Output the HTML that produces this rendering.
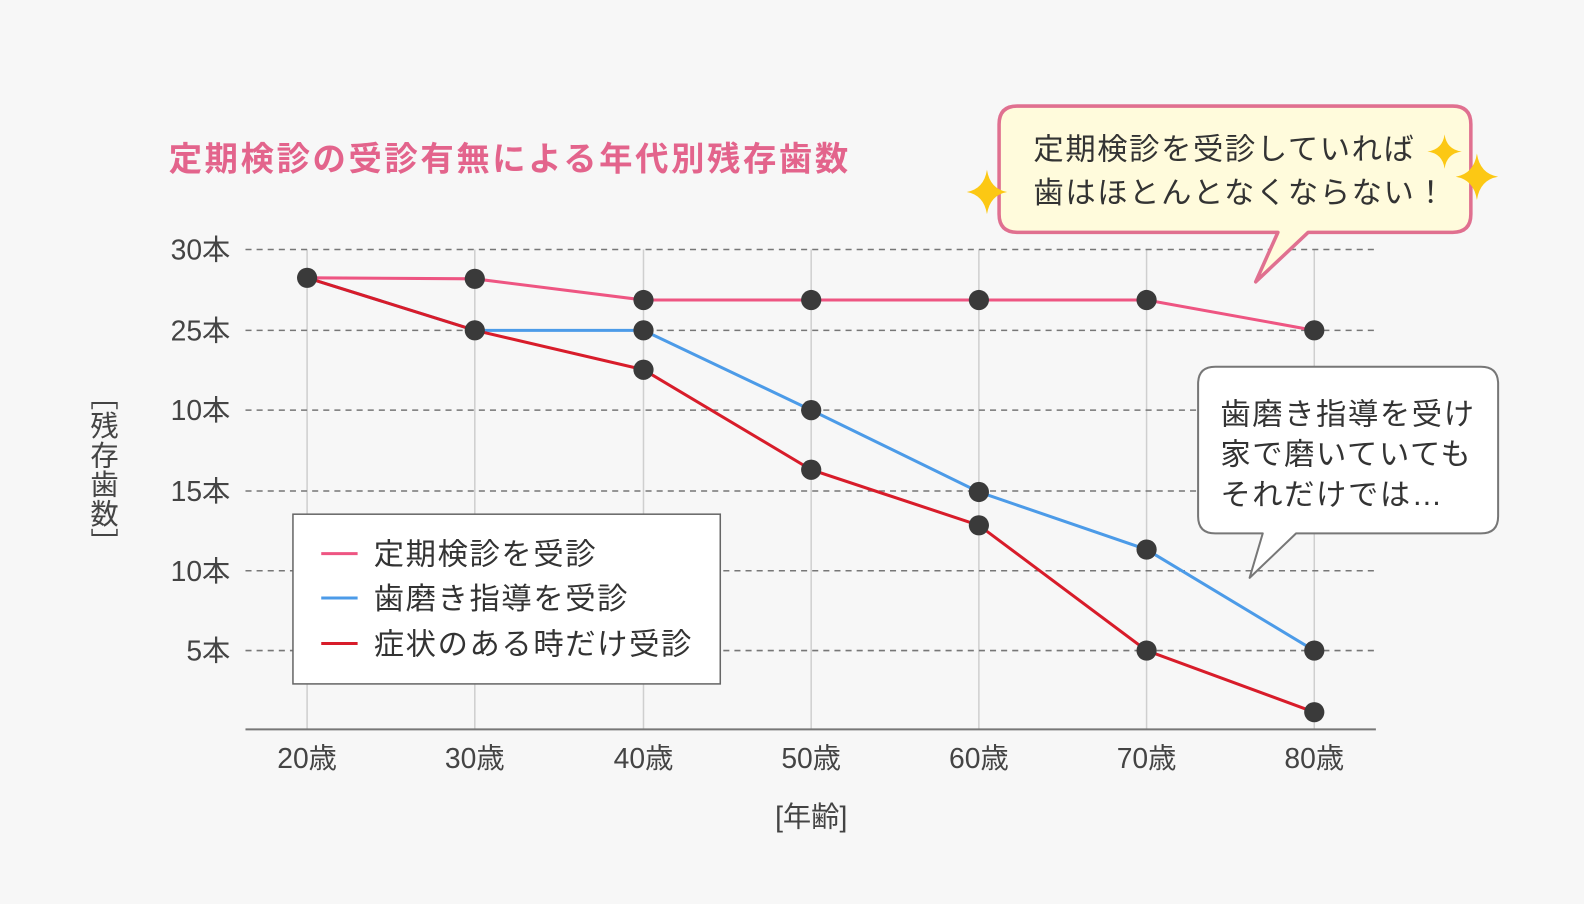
<!DOCTYPE html>
<html><head><meta charset="utf-8"><style>
html,body{margin:0;padding:0;background:#f7f7f7;}
svg{display:block;font-family:"Liberation Sans","Noto Sans CJK JP",sans-serif;}
</style></head><body>
<svg width="1584" height="904" viewBox="0 0 1584 904" xmlns="http://www.w3.org/2000/svg">
<rect width="1584" height="904" fill="#f7f7f7"/>
<g transform="scale(1.0102)">
<text x="167" y="169" font-size="33" font-weight="bold" fill="#e3648c" letter-spacing="2.6">定期検診の受診有無による年代別残存歯数</text>
<g stroke="#cfcfcf" stroke-width="1.5">
<line x1="304" y1="247" x2="304" y2="722"/><line x1="470" y1="247" x2="470" y2="722"/><line x1="637" y1="247" x2="637" y2="722"/><line x1="803" y1="247" x2="803" y2="722"/><line x1="969" y1="247" x2="969" y2="722"/><line x1="1135" y1="247" x2="1135" y2="722"/><line x1="1301" y1="247" x2="1301" y2="722"/>
</g>
<g stroke="#777" stroke-width="1.5" stroke-dasharray="6,5">
<line x1="243" y1="247" x2="1362" y2="247"/><line x1="243" y1="327" x2="1362" y2="327"/><line x1="243" y1="406" x2="1362" y2="406"/><line x1="243" y1="486" x2="1362" y2="486"/><line x1="243" y1="565" x2="1362" y2="565"/><line x1="243" y1="644" x2="1362" y2="644"/>
</g>
<line x1="243" y1="722" x2="1362" y2="722" stroke="#777" stroke-width="2"/>
<g font-size="28" fill="#444" text-anchor="end">
<text x="228" y="257">30本</text><text x="228" y="337">25本</text><text x="228" y="416">10本</text><text x="228" y="496">15本</text><text x="228" y="575">10本</text><text x="228" y="654">5本</text>
</g>
<g font-size="28" fill="#444" text-anchor="middle">
<text x="304" y="760">20歳</text><text x="470" y="760">30歳</text><text x="637" y="760">40歳</text><text x="803" y="760">50歳</text><text x="969" y="760">60歳</text><text x="1135" y="760">70歳</text><text x="1301" y="760">80歳</text>
<text x="803" y="818">[年齢]</text>
</g>
<text x="102" y="378" font-size="28" fill="#444" letter-spacing="1" style="writing-mode:vertical-rl">［残存歯数］</text>
<polyline fill="none" stroke="#ee5582" stroke-width="3" points="304,275 470,276 637,297 803,297 969,297 1135,297 1301,327"/>
<polyline fill="none" stroke="#4c9be8" stroke-width="3" points="304,275 470,327 637,327 803,406 969,487 1135,544 1301,644"/>
<polyline fill="none" stroke="#d81c2a" stroke-width="3" points="304,275 470,327 637,366 803,465 969,520 1135,644 1301,705"/>
<g fill="#3a3a3a">
<circle cx="304" cy="275" r="10"/><circle cx="470" cy="276" r="10"/><circle cx="637" cy="297" r="10"/><circle cx="803" cy="297" r="10"/><circle cx="969" cy="297" r="10"/><circle cx="1135" cy="297" r="10"/><circle cx="1301" cy="327" r="10"/>
<circle cx="470" cy="327" r="10"/><circle cx="637" cy="327" r="10"/><circle cx="803" cy="406" r="10"/><circle cx="969" cy="487" r="10"/><circle cx="1135" cy="544" r="10"/><circle cx="1301" cy="644" r="10"/>
<circle cx="637" cy="366" r="10"/><circle cx="803" cy="465" r="10"/><circle cx="969" cy="520" r="10"/><circle cx="1135" cy="644" r="10"/><circle cx="1301" cy="705" r="10"/>
</g>
<rect x="290" y="509" width="423" height="168" fill="#fff" stroke="#666" stroke-width="1.5"/>
<line x1="318" y1="548" x2="354" y2="548" stroke="#ee5582" stroke-width="3"/>
<line x1="318" y1="592" x2="354" y2="592" stroke="#4c9be8" stroke-width="3"/>
<line x1="318" y1="637" x2="354" y2="637" stroke="#d81c2a" stroke-width="3"/>
<g font-size="30" fill="#333" letter-spacing="1.6">
<text x="370" y="559">定期検診を受診</text><text x="370" y="603">歯磨き指導を受診</text><text x="370" y="648">症状のある時だけ受診</text>
</g>
<path d="M1007,105 H1438 Q1456,105 1456,123 V212 Q1456,230 1438,230 H1295 L1243,279 L1265,230 H1007 Q989,230 989,212 V123 Q989,105 1007,105 Z" fill="#fffbdc" stroke="#e07090" stroke-width="3.5" stroke-linejoin="round"/>
<g font-size="30" fill="#333" letter-spacing="1.6"><text x="1023" y="158">定期検診を受診していれば</text><text x="1023" y="201">歯はほとんとなくならない！</text></g>
<path d="M1203,363 H1466 Q1483,363 1483,380 V511 Q1483,528 1466,528 H1283 L1237,572 L1250,528 H1203 Q1186,528 1186,511 V380 Q1186,363 1203,363 Z" fill="#fff" stroke="#777" stroke-width="2" stroke-linejoin="round"/>
<g font-size="30" fill="#333" letter-spacing="1.6"><text x="1208" y="420">歯磨き指導を受け</text><text x="1208" y="460">家で磨いていても</text><text x="1208" y="500">それだけでは…</text></g>
<g fill="#fcc814">
<path d="M977,168 Q980,187 997,190 Q980,193 977,212 Q974,193 957,190 Q974,187 977,168 Z"/>
<path d="M1430,133 Q1432,148 1447,150 Q1432,152 1430,167 Q1428,152 1413,150 Q1428,148 1430,133 Z"/>
<path d="M1462,152 Q1465,172 1483,175 Q1465,178 1462,198 Q1459,178 1441,175 Q1459,172 1462,152 Z"/>
</g>
</g>
</svg>
</body></html>
